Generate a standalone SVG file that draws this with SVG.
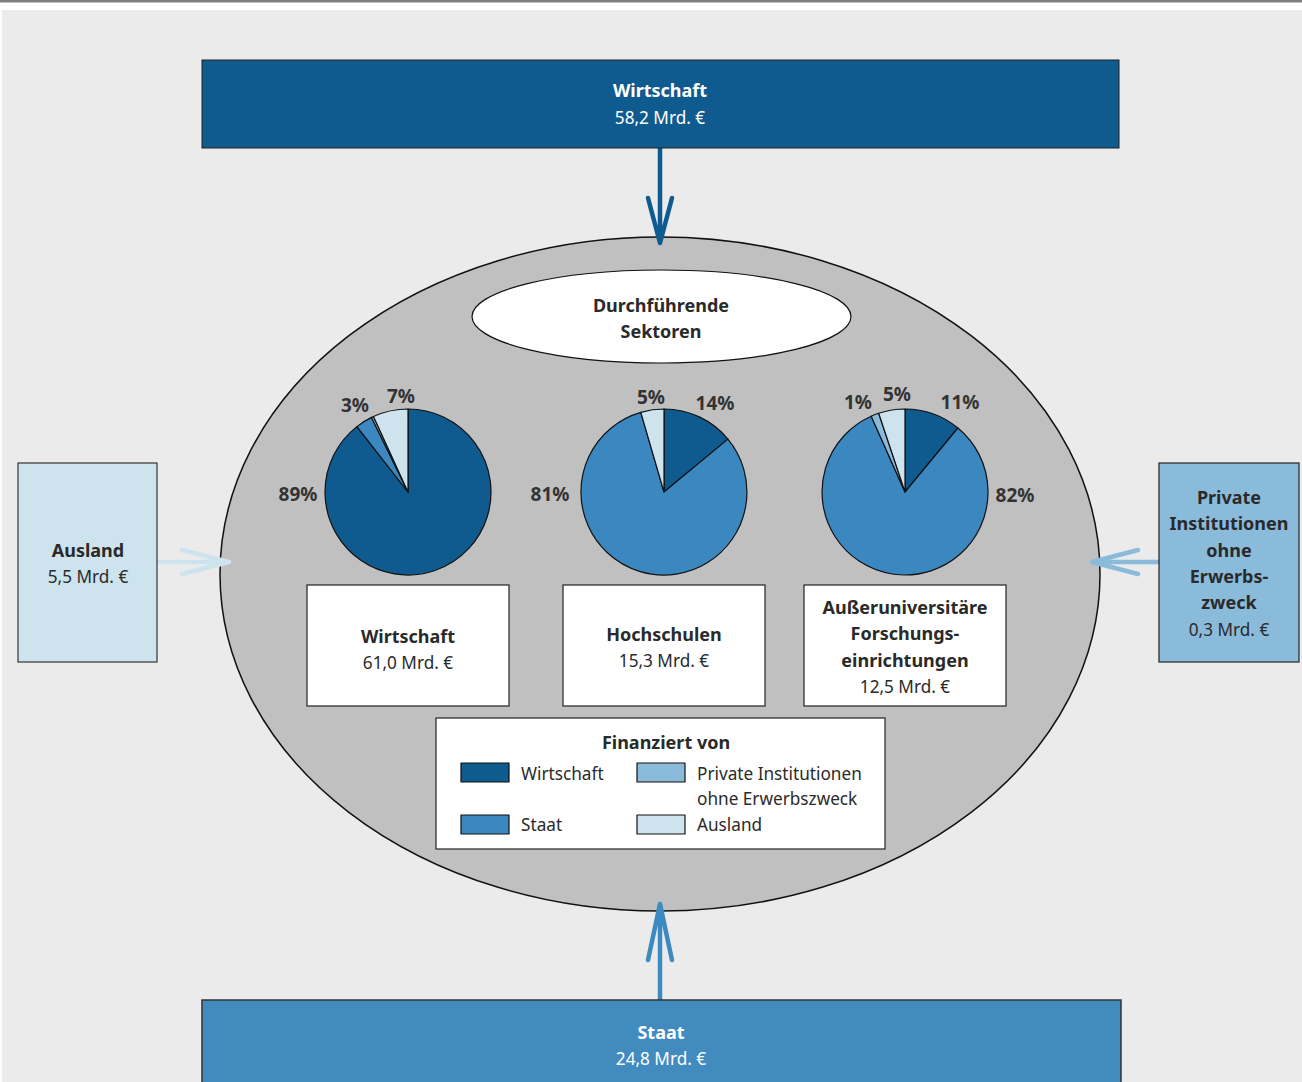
<svg xmlns="http://www.w3.org/2000/svg" width="1302" height="1082" viewBox="0 0 1302 1082">
<style>
text{font-family:"Noto Sans","Open Sans","Liberation Sans",sans-serif;fill:#2a2a2a;text-anchor:middle}
.b{font-weight:bold;font-size:18px}
.r{font-size:17.2px}
.w{fill:#ffffff}
.l{text-anchor:start}
.pct{font-weight:bold;font-size:19px;fill:#333333}
.sl{stroke:#111;stroke-width:1.2;stroke-linejoin:round}
.box{fill:#ffffff;stroke:#222;stroke-width:1.2}
.dk{fill:#0f5a8e}.md{fill:#3a88bf}.pr{fill:#8bbbdb}.au{fill:#cde3ee}
.arr{fill:none;stroke-width:4.5;stroke-linecap:round;stroke-linejoin:round}
</style>
<rect x="0" y="0" width="1302" height="1082" fill="#ffffff"/>
<rect x="0" y="0" width="1302" height="2.5" fill="#808080"/>
<rect x="2" y="10" width="1300" height="1072" fill="#ebebeb"/>

<g id="ellipse-main">
<ellipse cx="660" cy="574" rx="440" ry="337" fill="#c0c0c0" stroke="#111" stroke-width="1.5"/>
</g>

<g id="connectors">
<path class="arr" stroke="#0f5a8e" d="M660,148 L660,243 M648,198 L660,243 L672,198"/>
<path class="arr" stroke="#3c8ac0" d="M660,1000 L660,904 M648,960 L660,904 L672,960"/>
<path class="arr" stroke="#cde3ee" d="M157,562 L229,562 M182,550 L229,562 L182,574"/>
<path class="arr" stroke="#8bbbdb" d="M1159,562 L1092,562 M1138,550 L1092,562 L1138,574"/>
</g>

<g id="node-wirtschaft-top">
<rect x="202" y="60" width="917" height="88" class="dk" stroke="#222" stroke-width="1"/>
<text class="b w" x="660" y="97">Wirtschaft</text>
<text class="r w" x="660" y="124">58,2 Mrd. €</text>
</g>

<g id="node-staat-bottom">
<rect x="202" y="1000" width="919" height="90" fill="#418bbf" stroke="#333" stroke-width="1.5"/>
<text class="b w" x="661" y="1039">Staat</text>
<text class="r w" x="661" y="1065">24,8 Mrd. €</text>
</g>

<g id="node-ausland">
<rect x="18" y="463" width="139" height="199" class="au" stroke="#333" stroke-width="1.2"/>
<text class="b" x="88" y="557">Ausland</text>
<text class="r" x="88" y="583">5,5 Mrd. €</text>
</g>

<g id="node-private">
<rect x="1159" y="463" width="140" height="199" class="pr" stroke="#222" stroke-width="1.2"/>
<text class="b" x="1229" y="504">Private</text>
<text class="b" x="1229" y="530">Institutionen</text>
<text class="b" x="1229" y="557">ohne</text>
<text class="b" x="1229" y="583">Erwerbs-</text>
<text class="b" x="1229" y="609">zweck</text>
<text class="r" x="1229" y="636">0,3 Mrd. €</text>
</g>

<g id="node-sektoren">
<ellipse cx="661.5" cy="316.5" rx="189.5" ry="46.5" fill="#ffffff" stroke="#111" stroke-width="1.2"/>
<text class="b" x="661" y="312">Durchführende</text>
<text class="b" x="661" y="338">Sektoren</text>
</g>

<g id="pie-wirtschaft">
<path class="sl dk" d="M408,492 L408,409 A83,83 0 1,1 356.9,426.6 Z"/>
<path class="sl md" d="M408,492 L356.9,426.6 A83,83 0 0,1 371.5,417.4 Z"/>
<path class="sl pr" d="M408,492 L371.5,417.4 A83,83 0 0,1 373.5,416.5 Z"/>
<path class="sl au" d="M408,492 L373.5,416.5 A83,83 0 0,1 408,409 Z"/>
<text class="pct" x="298" y="501">89%</text>
<text class="pct" x="355" y="412">3%</text>
<text class="pct" x="401" y="403">7%</text>
</g>

<g id="pie-hochschulen">
<path class="sl dk" d="M664,492 L664,409 A83,83 0 0,1 727.9,439.1 Z"/>
<path class="sl md" d="M664,492 L727.9,439.1 A83,83 0 1,1 640.8,412.3 Z"/>
<path class="sl au" d="M664,492 L640.8,412.3 A83,83 0 0,1 664,409 Z"/>
<text class="pct" x="550" y="501">81%</text>
<text class="pct" x="651" y="404">5%</text>
<text class="pct" x="715" y="410">14%</text>
</g>

<g id="pie-ausseruni">
<path class="sl dk" d="M905,492 L905,409 A83,83 0 0,1 957.9,428 Z"/>
<path class="sl md" d="M905,492 L957.9,428 A83,83 0 1,1 871.2,416.2 Z"/>
<path class="sl pr" d="M905,492 L871.2,416.2 A83,83 0 0,1 878.7,413.3 Z"/>
<path class="sl au" d="M905,492 L878.7,413.3 A83,83 0 0,1 905,409 Z"/>
<text class="pct" x="858" y="409">1%</text>
<text class="pct" x="897" y="401">5%</text>
<text class="pct" x="960" y="409">11%</text>
<text class="pct" x="1015" y="502">82%</text>
</g>

<g id="node-sektor-wirtschaft">
<rect class="box" x="307" y="585" width="202" height="121"/>
<text class="b" x="408" y="643">Wirtschaft</text>
<text class="r" x="408" y="669">61,0 Mrd. €</text>
</g>

<g id="node-sektor-hochschulen">
<rect class="box" x="563" y="585" width="202" height="121"/>
<text class="b" x="664" y="641">Hochschulen</text>
<text class="r" x="664" y="667">15,3 Mrd. €</text>
</g>

<g id="node-sektor-ausseruni">
<rect class="box" x="804" y="585" width="202" height="121"/>
<text class="b" x="905" y="614">Außeruniversitäre</text>
<text class="b" x="905" y="640">Forschungs-</text>
<text class="b" x="905" y="667">einrichtungen</text>
<text class="r" x="905" y="693">12,5 Mrd. €</text>
</g>

<g id="legend">
<rect class="box" x="436" y="718" width="449" height="131"/>
<text class="b" x="666" y="749">Finanziert von</text>
<rect class="sl dk" x="461" y="763" width="48" height="19"/>
<rect class="sl pr" x="637" y="763" width="48" height="19"/>
<rect class="sl md" x="461" y="815" width="48" height="19"/>
<rect class="sl au" x="637" y="815" width="48" height="19"/>
<text class="r l" x="521" y="780">Wirtschaft</text>
<text class="r l" x="697" y="780">Private Institutionen</text>
<text class="r l" x="697" y="805">ohne Erwerbszweck</text>
<text class="r l" x="521" y="831">Staat</text>
<text class="r l" x="697" y="831">Ausland</text>
</g>
</svg>
